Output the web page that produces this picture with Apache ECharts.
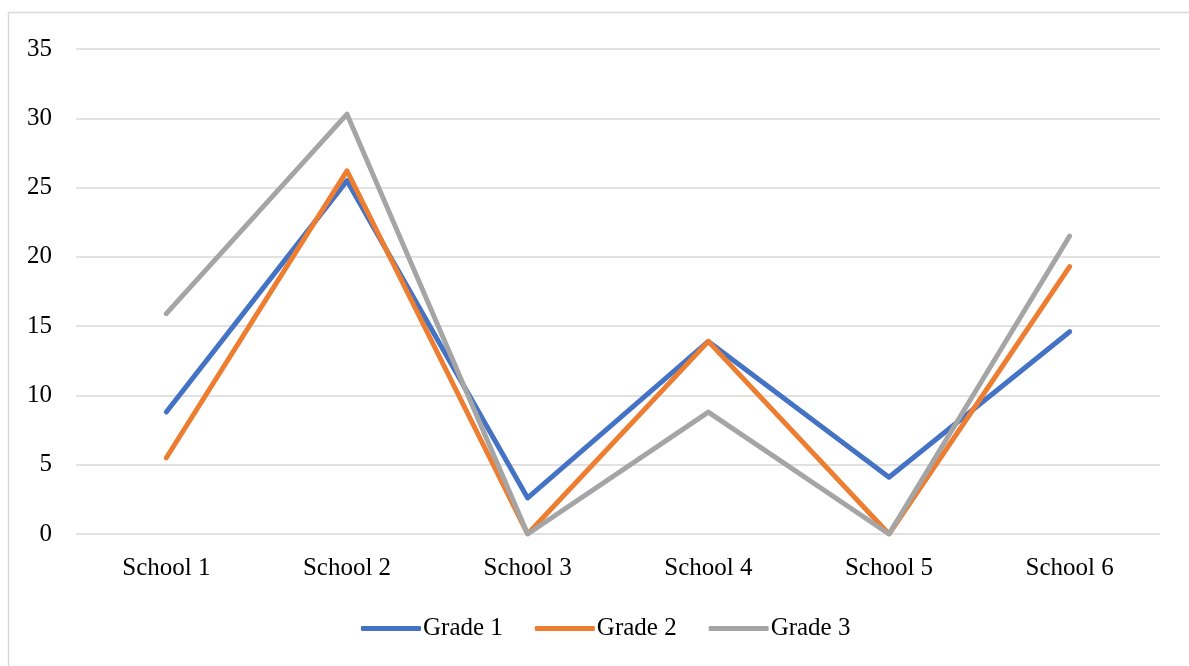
<!DOCTYPE html>
<html>
<head>
<meta charset="utf-8">
<script src="https://cdn.jsdelivr.net/npm/echarts@6/dist/echarts.min.js"></script>
<style>
  html, body { margin: 0; padding: 0; background: #fff; }
  #chart { width: 1189px; height: 666px; }
</style>
</head>
<body>
<div id="chart"></div>
<script>
// Schools along the category axis
const schools = ['School 1', 'School 2', 'School 3', 'School 4', 'School 5', 'School 6'];
// Values per grade
const grade1 = [8.8, 25.5, 2.6, 13.9, 4.1, 14.6];
const grade2 = [5.5, 26.2, 0, 13.9, 0, 19.3];
const grade3 = [15.9, 30.3, 0, 8.8, 0, 21.5];
const seriesNames = ['Grade 1', 'Grade 2', 'Grade 3'];
const seriesColors = ['#4472C4', '#ED7D31', '#A5A5A5'];

const font = '"Liberation Serif", "Times New Roman", serif';
const chart = echarts.init(document.getElementById('chart'));

const lineSeries = [grade1, grade2, grade3].map((data, i) => ({
  name: seriesNames[i],
  type: 'line',
  data: data,
  symbol: 'none',
  smooth: false,
  lineStyle: { width: 5, color: seriesColors[i], cap: 'round', join: 'round' },
  itemStyle: { color: seriesColors[i] },
  emphasis: { disabled: true }
}));

chart.setOption({
  animation: false,
  backgroundColor: '#fff',
  graphic: [{
    type: 'rect',
    shape: { x: 8.5, y: 12.5, width: 1200, height: 700 },
    style: { fill: 'none', stroke: '#D9D9D9', lineWidth: 1.5 },
    silent: true
  }],
  grid: { left: 76, right: 29, top: 49, bottom: 132, containLabel: false },
  legend: {
    bottom: 25,
    left: 361,
    padding: 0,
    itemWidth: 60,
    itemHeight: 5,
    itemGap: 32,
    icon: 'roundRect',
    textStyle: { fontFamily: font, fontSize: 25, color: '#000', padding: [0, 0, 0, -3] },
    data: seriesNames
  },
  xAxis: {
    type: 'category',
    data: schools,
    boundaryGap: true,
    axisLine: { show: false },
    axisTick: { show: false },
    axisLabel: { fontFamily: font, fontSize: 25, color: '#000', margin: 22 }
  },
  yAxis: {
    type: 'value',
    min: 0,
    max: 35,
    interval: 5,
    axisLine: { show: false },
    axisTick: { show: false },
    axisLabel: { fontFamily: font, fontSize: 25, color: '#000', margin: 24 },
    splitLine: { lineStyle: { color: '#D9D9D9', width: 1.5 } }
  },
  series: lineSeries
});
</script>
</body>
</html>
